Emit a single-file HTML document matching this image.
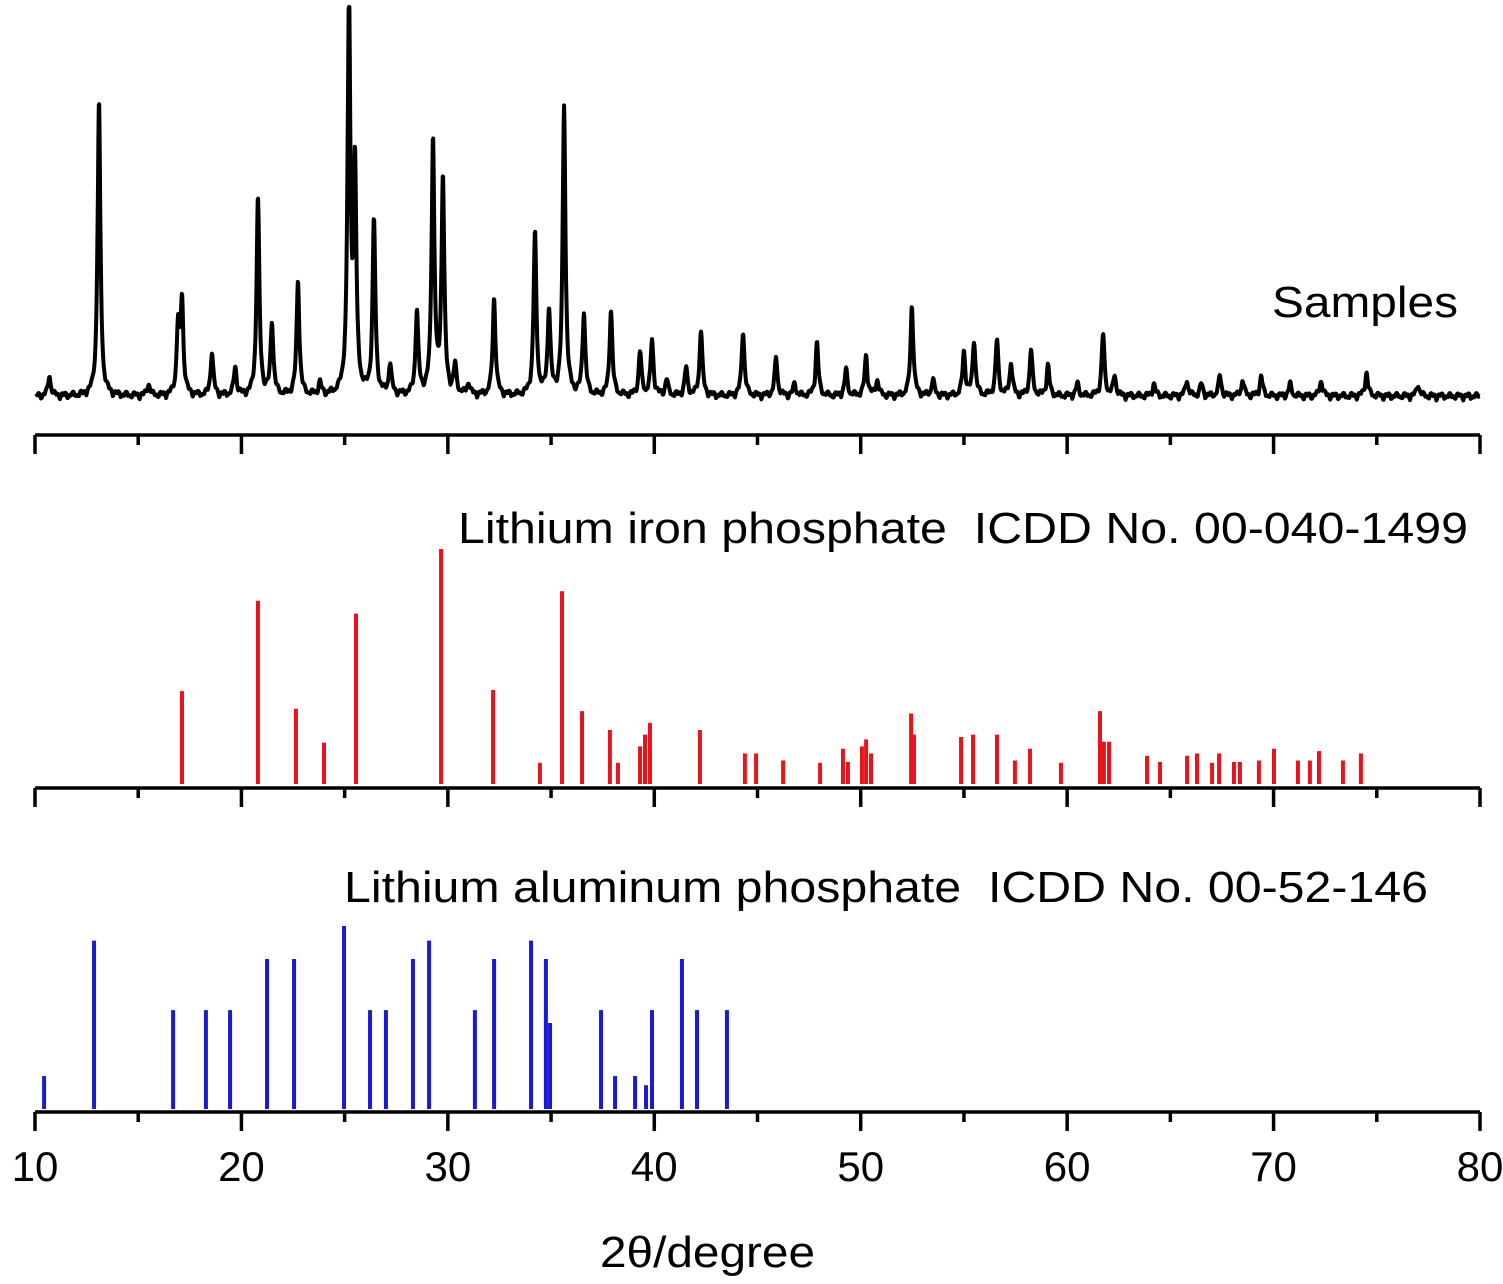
<!DOCTYPE html>
<html><head><meta charset="utf-8"><style>
body{margin:0;background:#fff}
svg{display:block}
text{font-family:"Liberation Sans",Arial,sans-serif;fill:#000}
</style></head><body>
<svg id="chart" width="1503" height="1284" viewBox="0 0 1503 1284" xmlns="http://www.w3.org/2000/svg">
<g id="axes"></g>
<path id="sample-line" fill="none" stroke="#000" stroke-width="4" stroke-linejoin="round"/>
<g id="red"></g>
<g id="blue"></g>
<text x="1272" y="317" font-size="44" textLength="186" lengthAdjust="spacingAndGlyphs">Samples</text>
<text x="458" y="543" font-size="44" textLength="1010" lengthAdjust="spacingAndGlyphs" xml:space="preserve">Lithium iron phosphate  ICDD No. 00-040-1499</text>
<text x="344" y="902" font-size="44" textLength="1084" lengthAdjust="spacingAndGlyphs" xml:space="preserve">Lithium aluminum phosphate  ICDD No. 00-52-146</text>
<text x="600" y="1267" font-size="44" textLength="215" lengthAdjust="spacingAndGlyphs">2θ/degree</text>
</svg>
<script>
const sampleDeg=[13.10,16.93,17.12,18.57,20.80,21.48,22.74,25.21,25.50,26.42,27.20,28.50,29.28,29.76,30.35,32.24,34.22,34.90,35.63,36.59,37.90,39.31,39.89,41.54,42.26,44.30,45.90,47.88,49.29,50.26,52.48,55.00,55.49,56.60,57.28,58.25,59.07,61.74,10.7,19.7,64.2,65.8,67.4,69.4,72.3,74.5,15.5,23.8,31.0,40.6,46.8,50.8,53.5,60.5,62.3,66.5,68.5,70.8,77.0];
const sampleInt=[74.5,17,23.5,11,50,18.4,29,100,56,44,7.6,21,64.6,55,7,24.7,41,21.7,73.5,21,21.7,11,14,7,16.7,16.4,9.6,13.4,6.5,10,23,11,14,14,8.3,11.6,7.6,15.6,5,7,3,4,5,5,4,6,3,3,3,4,3,4,4,3,5,3,4,3,3];
const redDeg=[17.12,20.80,22.64,24.00,25.55,29.67,32.19,34.46,35.53,36.50,37.85,38.24,39.31,39.55,39.79,42.21,44.39,44.93,46.24,48.03,49.14,49.38,50.06,50.26,50.50,52.44,52.58,54.86,55.44,56.60,57.47,58.20,59.70,61.59,61.78,62.03,63.87,64.50,65.81,66.29,67.02,67.36,68.08,68.37,69.29,70.02,71.18,71.76,72.20,73.36,74.23];
const redInt=[39.5,78,32,17.6,72.5,100,40,9,82,31,23,9,16,21,26,23,13,13,10,9,15,9.4,16,19,13,30,21,20,21,21,10,15,9,31,18,18,12,9.4,12,13,9,13,9.4,9.4,10,15,10,10,14,10,13];
const blueDeg=[10.44,12.86,16.69,18.28,19.45,21.24,22.55,24.97,26.23,27.00,28.31,29.09,31.31,32.24,34.03,34.75,34.95,37.42,38.10,39.07,39.60,39.89,41.34,42.07,43.52];
const blueInt=[18,92,54,54,54,82,82,100,54,54,82,92,54,82,92,82,47,54,18,18,13,54,82,54,54];
const ticks=[10,20,30,40,50,60,70,80];
const NS='http://www.w3.org/2000/svg';
const X=d=>35+(d-10)*(1445/70);
function mk(tag,attrs,parent){const e=document.createElementNS(NS,tag);for(const k in attrs)e.setAttribute(k,attrs[k]);parent.appendChild(e);return e;}
const axesG=document.getElementById('axes');
[435,788,1112].forEach((ay,i)=>{
  const l=mk('line',{x1:35,x2:1480,y1:ay,y2:ay,stroke:'#000','stroke-width':3.5},axesG);
  
  
  for(let d=10;d<=80;d+=5){
    const maj=d%10===0;
    const t=mk('line',{x1:X(d),x2:X(d),y1:ay,y2:ay+(maj?19:10),stroke:'#000','stroke-width':3.5},axesG);
    
    
  }
});
ticks.forEach(v=>{
  const t=mk('text',{x:X(v),y:1181,'font-size':42,'text-anchor':'middle'},axesG);
  t.textContent=v;
  
  
});
const base=397, scale=394/100;
let pts=[];
for(let d=10.05;d<=80;d+=0.02){
  let y=0;
  for(let i=0;i<sampleDeg.length;i++){const dx=(d-sampleDeg[i])/0.08;y+=sampleInt[i]/(1+dx*dx);}
  y+=1.2*Math.abs(Math.sin(d*7.3))+0.8*Math.abs(Math.sin(d*17.1));
  pts.push(X(d).toFixed(1)+','+(base-Math.min(y,100)*scale+4).toFixed(1));
}
document.getElementById('sample-line').setAttribute('d','M'+pts.join('L'));
const redG=document.getElementById('red'),blueG=document.getElementById('blue');
redDeg.forEach((d,i)=>{
  const e=mk('line',{x1:X(d),x2:X(d),y1:784,y2:784-redInt[i]*2.35,stroke:'#e8141c','stroke-width':4},redG);
  
  
});
blueDeg.forEach((d,i)=>{
  const e=mk('line',{x1:X(d),x2:X(d),y1:1109,y2:1109-blueInt[i]*1.83,stroke:'#1a1ad0','stroke-width':4},blueG);
  
  
});
</script>
</body></html>
